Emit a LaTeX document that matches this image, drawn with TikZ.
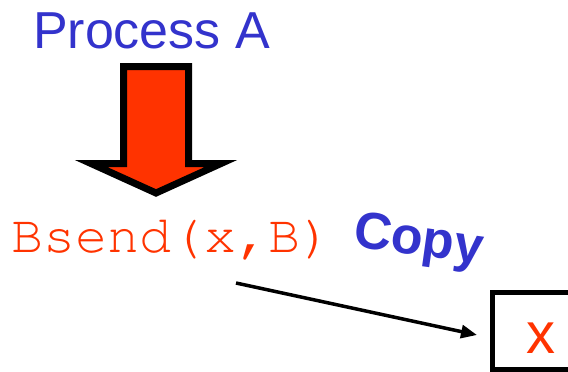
\documentclass[tikz,border=0pt]{standalone}
\usepackage{fontspec}
\setmainfont{Liberation Sans}
\usetikzlibrary{arrows.meta}
\definecolor{pblue}{HTML}{3333CC}
\definecolor{pred}{HTML}{FF3300}
\newcommand{\courierfont}{\fontencoding{T1}\fontfamily{pcr}\fontseries{m}\fontshape{n}\fontsize{53.5}{60}\selectfont}
\tikzset{
  bigtext/.style={font=\fontsize{52}{60}\selectfont, inner sep=0pt},
  fatarrow/.style={draw=black, fill=pred, line width=7pt, miter limit=10, line join=miter},
  copyarrow/.style={line width=3.5pt, -{Triangle[length=16pt,width=13pt]}},
  boxstyle/.style={draw=black, line width=5pt, inner sep=0pt},
}
\begin{document}
\begin{tikzpicture}[x=1pt,y=-1pt]
\useasboundingbox (0,0) rectangle (568,372);
\clip (0,0) rectangle (568,372);
\node[bigtext, text=pblue, anchor=base] (proc) at (151.5,48) {Process A};
\draw[fatarrow] (123.5,66.5) -- (188.5,66.5) -- (188.5,163.5) -- (221,163.5)
  -- (156,193) -- (91,163.5) -- (123.5,163.5) -- cycle;
\node[inner sep=0pt, font=\courierfont, text=pred, anchor=base] (bsend) at (172,252) {Bsend(x,B)};
\node[bigtext, font=\fontsize{52}{60}\selectfont\bfseries, text=pblue, anchor=base west, rotate=-8] (copy) at (352,246) {Copy};
\node[boxstyle, minimum width=96pt, minimum height=76.5pt] (box) at (540.5,330.75) {};
\node[inner sep=0pt, font=\fontsize{58}{66}\selectfont, text=pred, anchor=base] (xlab) at (540.5,353) {x};
\coordinate (cs) at (236,283);
\coordinate (ce) at (477,335);
\draw[copyarrow] (cs) -- (ce);
\end{tikzpicture}
\end{document}
